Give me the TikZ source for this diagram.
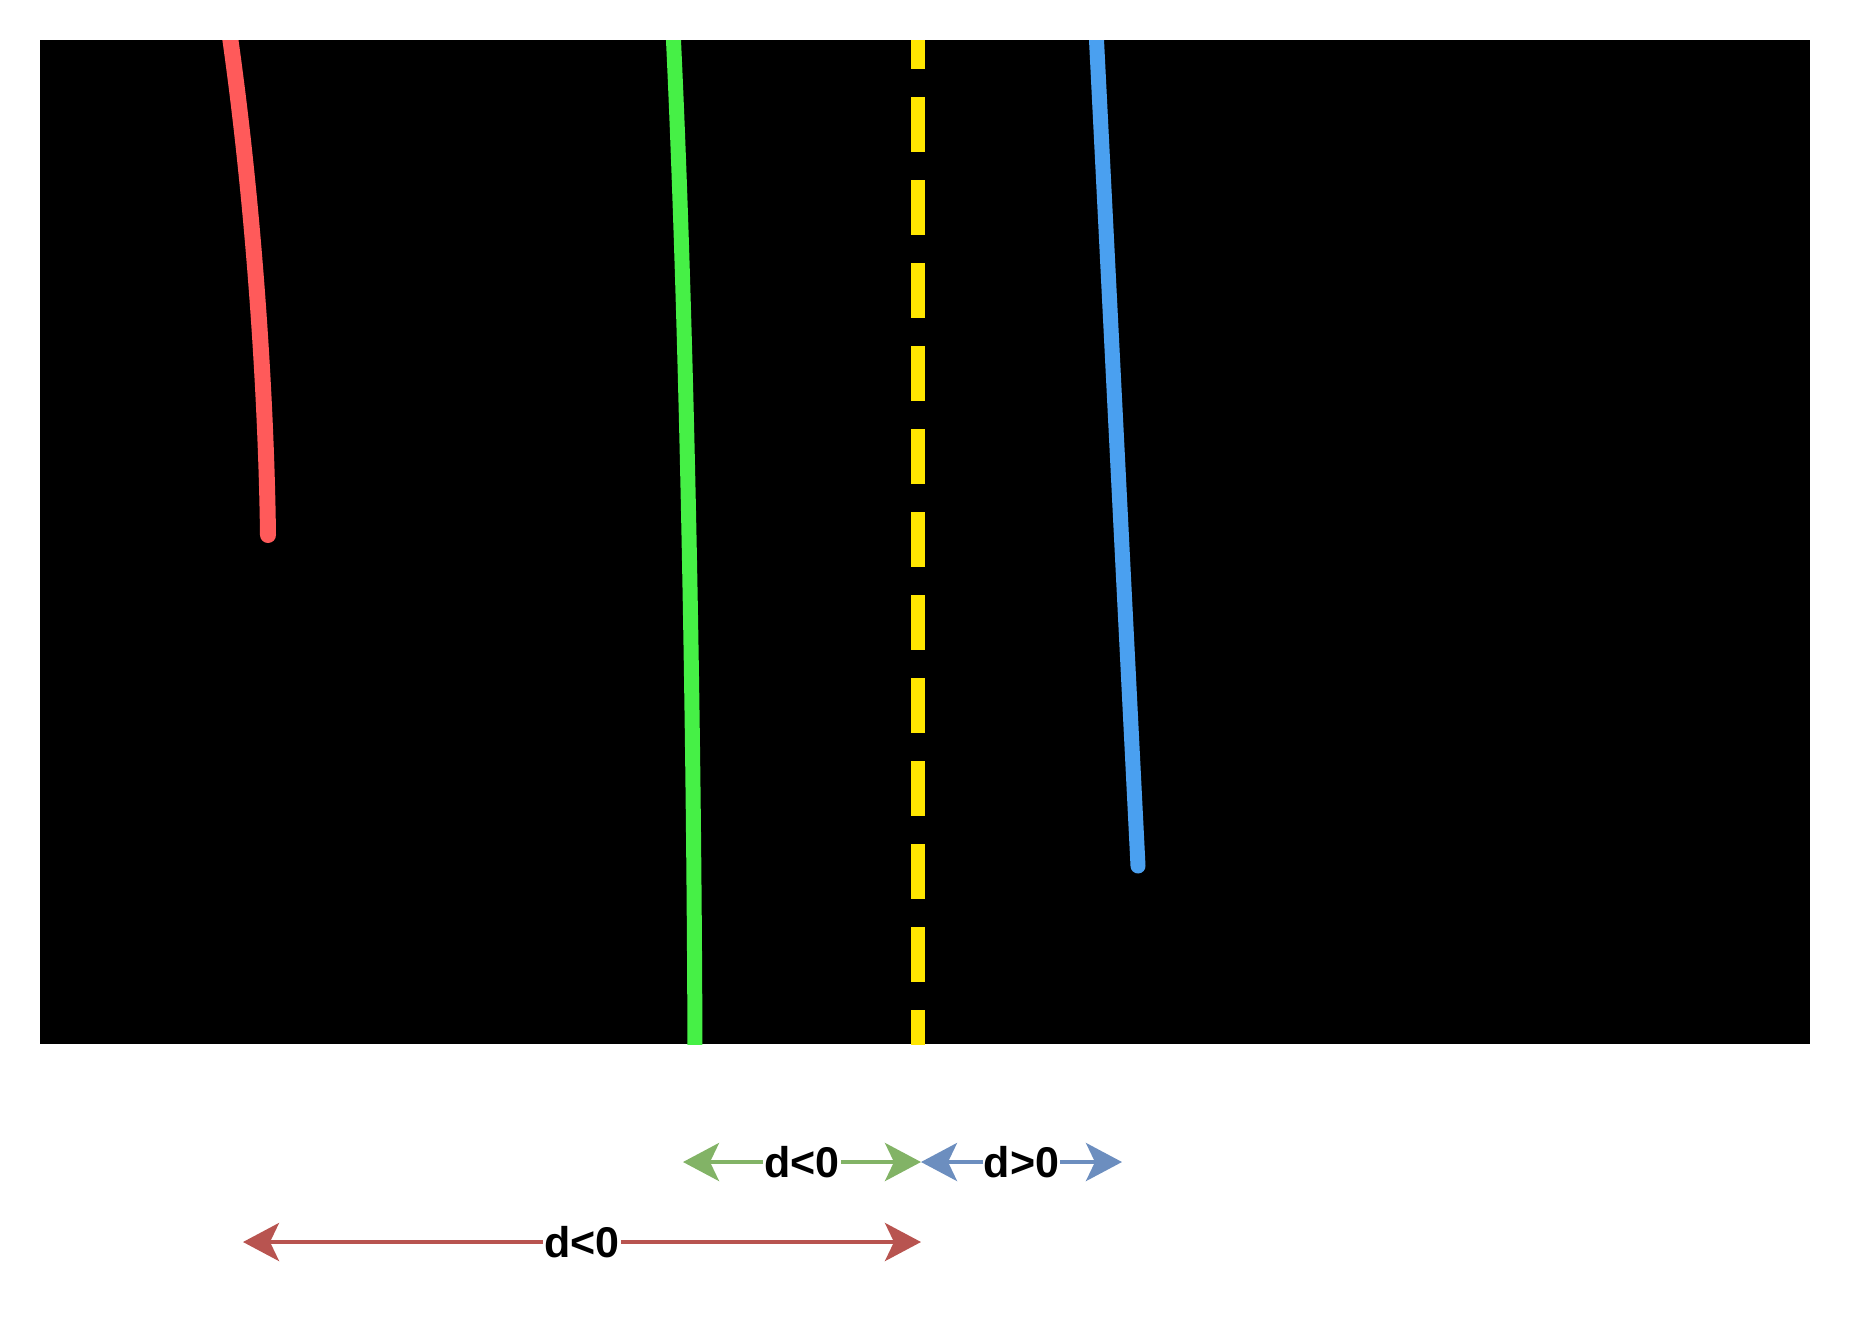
\documentclass[tikz,border=0pt]{standalone}
\usepackage{fontspec}
\setmainfont{Liberation Sans}
\usetikzlibrary{arrows.meta}
\definecolor{lanered}{HTML}{FF5A5A}
\definecolor{lanegreen}{HTML}{46F046}
\definecolor{laneblue}{HTML}{4AA0F0}
\definecolor{laneyellow}{HTML}{FFE600}
\definecolor{arrred}{HTML}{B85450}
\definecolor{arrgreen}{HTML}{82B366}
\definecolor{arrblue}{HTML}{6C8EBF}
\begin{document}
\begin{tikzpicture}[x=1pt,y=-1pt,line join=round,line cap=round,
	tip/.tip={Stealth[length=36pt,width=38pt,inset=9pt]},
	dim/.style={line width=4pt,line cap=butt,tip-tip},
	dlabel/.style={fill=white,inner sep=1pt,text=black,font=\fontsize{43}{43}\selectfont\bfseries}]
	\useasboundingbox (0,0) rectangle (1852,1320);
	\fill (40,40)coordinate(TL) rectangle (1810,1044)coordinate(BR);
	\begin{scope}
		\clip (TL) rectangle (BR);
		\draw[lanered,line width=16pt] (229,30) .. controls (252,190) and (266,380) .. (268,535);
		\draw[lanegreen,line width=15pt] (673,30) .. controls (686,300) and (694,700) .. (695,1060);
		\draw[laneyellow,line width=14pt,line cap=butt,dash pattern=on 55pt off 28pt] (918,14) -- (918,1060);
		\draw[laneblue,line width=15pt] (1096,30) -- (1138,866);
	\end{scope}
	\path (243,1242)coordinate(R1) (921,1242)coordinate(R2)
		(683,1162)coordinate(G1) (921,1162)coordinate(G2)
		(921,1162)coordinate(B1) (1122,1162)coordinate(B2);
	\foreach \a/\b/\c/\t in {G1/G2/arrgreen/{d<0},B1/B2/arrblue/{d>0},R1/R2/arrred/{d<0}}
	\draw[dim,\c] (\a)--(\b) node[midway,dlabel](\a\b){\t};
\end{tikzpicture}
\end{document}
